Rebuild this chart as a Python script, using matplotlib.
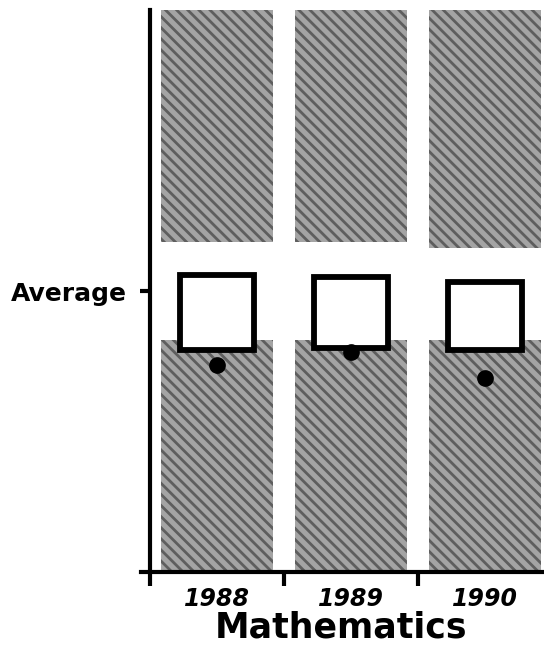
import matplotlib
matplotlib.use("Agg")
import matplotlib.pyplot as plt
import numpy as np

plt.rcParams['font.family'] = ['DejaVu Sans']
plt.rcParams['hatch.linewidth'] = 2.0

years = ['1988', '1989', '1990']
band_lo = [41.3, 41.3, 41.3]
band_hi = [58.7, 58.7, 57.7]
box_lo = [39.5, 39.9, 39.5]
box_hi = [52.8, 52.5, 51.6]
score = [36.8, 39.1, 34.5]
average = 50

x = np.arange(len(years)) + 0.5

fig = plt.figure(figsize=(5.44, 6.72), dpi=100)
ax = fig.add_axes([150 / 544, 100 / 672, 402 / 544, 562 / 672])

# shaded columns, white average band, boxes, dots
ax.bar(x, 100, width=0.84, bottom=0, color='#a4a4a4', edgecolor='#5e5e5e',
       hatch='\\\\\\', linewidth=0, zorder=1)
ax.bar(x, np.array(band_hi) - np.array(band_lo), width=0.84, bottom=band_lo,
       color='white', linewidth=0, zorder=2)
ax.bar(x, np.array(box_hi) - np.array(box_lo), width=0.55, bottom=box_lo,
       facecolor='white', edgecolor='black', linewidth=4.2, zorder=3)
ax.plot(x, score, 'o', color='black', markersize=11, zorder=4, clip_on=False)

ax.set_xlim(0, 3)
ax.set_ylim(0, 100)

for s in ['top', 'right']:
    ax.spines[s].set_visible(False)
ax.spines['left'].set_linewidth(3)
ax.spines['bottom'].set_linewidth(3)
ax.spines['bottom'].set_bounds(-0.07, 3)

ax.set_xticks([0, 1, 2])
ax.set_xticklabels([])
ax.tick_params(axis='x', direction='out', length=10, width=3, color='black')
ax.set_xticks(x, minor=True)
ax.set_xticklabels(years, minor=True, fontsize=17, fontweight='bold',
                   fontstyle='italic')
ax.tick_params(axis='x', which='minor', length=0, pad=11)

ax.set_yticks([average])
ax.set_yticklabels(['Average'], fontsize=18, fontweight='bold')
ax.tick_params(axis='y', direction='out', length=7, width=3, pad=10)

fig.text(341 / 544, 1 - 627 / 672, 'Mathematics', ha='center', va='center',
         fontsize=25, fontweight='bold')

fig.savefig('out.png', dpi=100)
